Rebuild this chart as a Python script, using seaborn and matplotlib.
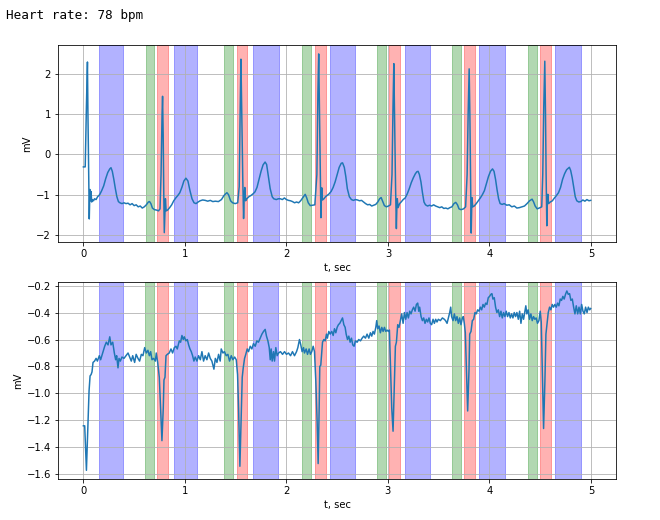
import matplotlib
matplotlib.use('Agg')
import matplotlib.pyplot as plt
import seaborn as sns

# canal 1 (t em s, valor em mV)
top_t = [0.000, 0.018, 0.030, 0.040, 0.045, 0.052, 0.058, 0.064, 0.070, 0.075, 0.082, 0.090, 0.100, 0.110, 0.125,
         0.140, 0.160, 0.180, 0.200, 0.220, 0.240, 0.260, 0.272, 0.285, 0.300, 0.315, 0.330, 0.345, 0.360, 0.380,
         0.400, 0.420, 0.440, 0.460, 0.480, 0.500, 0.520, 0.540, 0.560, 0.580, 0.600, 0.620, 0.640, 0.652, 0.665,
         0.680, 0.700, 0.720, 0.740, 0.755, 0.765, 0.775, 0.780, 0.786, 0.792, 0.797, 0.803, 0.808, 0.815, 0.830,
         0.850, 0.870, 0.890, 0.910, 0.930, 0.950, 0.970, 0.990, 1.010, 1.030, 1.050, 1.070, 1.090, 1.110, 1.130,
         1.150, 1.175, 1.200, 1.225, 1.250, 1.275, 1.300, 1.330, 1.360, 1.385, 1.400, 1.414, 1.430, 1.450, 1.470,
         1.495, 1.520, 1.535, 1.545, 1.552, 1.560, 1.570, 1.578, 1.585, 1.590, 1.598, 1.610, 1.630, 1.650, 1.670,
         1.690, 1.710, 1.730, 1.750, 1.770, 1.790, 1.805, 1.820, 1.840, 1.860, 1.875, 1.900, 1.920, 1.940, 1.960,
         1.980, 2.000, 2.020, 2.040, 2.060, 2.080, 2.100, 2.120, 2.140, 2.160, 2.185, 2.200, 2.215, 2.235, 2.260,
         2.280, 2.300, 2.310, 2.318, 2.326, 2.334, 2.340, 2.345, 2.349, 2.355, 2.370, 2.385, 2.400, 2.420, 2.440,
         2.460, 2.480, 2.500, 2.520, 2.540, 2.553, 2.570, 2.585, 2.600, 2.620, 2.640, 2.660, 2.680, 2.700, 2.720,
         2.740, 2.760, 2.780, 2.800, 2.820, 2.840, 2.860, 2.880, 2.900, 2.918, 2.933, 2.950, 2.965, 2.985, 3.005,
         3.025, 3.040, 3.050, 3.058, 3.066, 3.075, 3.083, 3.088, 3.092, 3.100, 3.115, 3.130, 3.150, 3.170, 3.190,
         3.210, 3.230, 3.250, 3.270, 3.285, 3.297, 3.310, 3.325, 3.340, 3.355, 3.370, 3.390, 3.410, 3.430, 3.450,
         3.470, 3.490, 3.510, 3.530, 3.550, 3.570, 3.590, 3.610, 3.630, 3.650, 3.668, 3.685, 3.700, 3.720, 3.745,
         3.765, 3.780, 3.790, 3.800, 3.807, 3.814, 3.820, 3.824, 3.827, 3.835, 3.850, 3.870, 3.890, 3.910, 3.930,
         3.950, 3.970, 3.990, 4.010, 4.030, 4.045, 4.060, 4.075, 4.090, 4.105, 4.125, 4.145, 4.170, 4.195, 4.220,
         4.245, 4.270, 4.295, 4.320, 4.345, 4.370, 4.395, 4.420, 4.435, 4.450, 4.470, 4.490, 4.515, 4.525, 4.535,
         4.545, 4.552, 4.558, 4.565, 4.570, 4.575, 4.582, 4.600, 4.620, 4.640, 4.660, 4.680, 4.700, 4.720, 4.740,
         4.760, 4.787, 4.800, 4.815, 4.830, 4.845, 4.860, 4.880, 4.900, 4.920, 4.940, 4.960, 4.980, 4.997]
top_mv = [-0.31, -0.31, 1.20, 2.29, 1.00, -0.50, -1.60, -0.87, -1.15, -0.92, -1.18, -1.12, -1.15, -1.10, -1.12,
          -1.05, -1.00, -0.90, -0.78, -0.60, -0.45, -0.36, -0.33, -0.42, -0.62, -0.85, -1.05, -1.17, -1.20, -1.22,
          -1.20, -1.22, -1.21, -1.25, -1.22, -1.27, -1.25, -1.30, -1.28, -1.33, -1.30, -1.25, -1.18, -1.17, -1.22,
          -1.33, -1.37, -1.38, -1.40, -1.35, -0.50, 1.00, 1.44, 0.50, -1.00, -1.94, -1.50, -1.10, -1.40, -1.38,
          -1.32, -1.25, -1.15, -1.08, -1.02, -0.95, -0.82, -0.66, -0.59, -0.66, -0.90, -1.10, -1.20, -1.22, -1.18,
          -1.15, -1.13, -1.14, -1.16, -1.14, -1.17, -1.16, -1.17, -1.12, -1.02, -0.98, -0.95, -1.00, -1.15, -1.20,
          -1.22, -1.20, -0.80, 1.20, 2.36, 1.00, -0.60, -1.59, -1.00, -0.82, -1.15, -1.10, -1.05, -1.02, -0.98,
          -0.93, -0.82, -0.62, -0.42, -0.26, -0.19, -0.25, -0.50, -0.85, -1.05, -1.10, -1.12, -1.10, -1.10, -1.12,
          -1.08, -1.12, -1.14, -1.15, -1.17, -1.20, -1.18, -1.20, -1.15, -1.08, -0.99, -1.08, -1.20, -1.27, -1.26,
          -1.25, -0.50, 1.50, 2.49, 1.00, -0.60, -1.57, -1.00, -0.83, -1.13, -1.10, -1.05, -1.02, -0.98, -0.92,
          -0.82, -0.68, -0.50, -0.32, -0.22, -0.21, -0.32, -0.55, -0.85, -1.05, -1.12, -1.14, -1.12, -1.13, -1.15,
          -1.14, -1.18, -1.22, -1.25, -1.24, -1.28, -1.26, -1.24, -1.18, -1.10, -1.07, -1.18, -1.27, -1.30, -1.28,
          -1.25, -0.50, 1.20, 2.25, 0.80, -0.80, -1.84, -1.30, -1.10, -1.32, -1.22, -1.18, -1.12, -1.08, -0.98,
          -0.85, -0.70, -0.58, -0.48, -0.43, -0.42, -0.50, -0.68, -0.95, -1.18, -1.25, -1.28, -1.26, -1.28, -1.25,
          -1.28, -1.30, -1.32, -1.30, -1.34, -1.33, -1.35, -1.32, -1.30, -1.22, -1.19, -1.25, -1.35, -1.37, -1.35,
          -1.30, -0.50, 1.00, 2.12, 1.00, -0.60, -1.95, -1.40, -1.07, -1.30, -1.28, -1.22, -1.15, -1.08, -1.00,
          -0.90, -0.72, -0.55, -0.42, -0.36, -0.42, -0.62, -0.88, -1.10, -1.22, -1.24, -1.22, -1.26, -1.25, -1.30,
          -1.28, -1.33, -1.32, -1.30, -1.28, -1.22, -1.15, -1.11, -1.18, -1.28, -1.35, -1.33, -1.30, -0.50, 1.20,
          2.31, 1.00, -0.50, -1.77, -1.20, -0.99, -1.22, -1.18, -1.15, -1.08, -1.02, -0.95, -0.82, -0.62, -0.48,
          -0.38, -0.32, -0.40, -0.58, -0.82, -1.05, -1.15, -1.18, -1.17, -1.13, -1.16, -1.12, -1.15, -1.14]

# canal 2
bot_t = [0.000, 0.013, 0.030, 0.046, 0.056, 0.066, 0.076, 0.085, 0.095, 0.110, 0.125, 0.138, 0.157, 0.170, 0.190,
         0.210, 0.226, 0.243, 0.260, 0.272, 0.289, 0.305, 0.318, 0.328, 0.341, 0.351, 0.364, 0.380, 0.400, 0.420,
         0.440, 0.456, 0.472, 0.486, 0.505, 0.520, 0.538, 0.554, 0.571, 0.587, 0.604, 0.620, 0.636, 0.650, 0.663,
         0.676, 0.692, 0.709, 0.718, 0.732, 0.748, 0.761, 0.774, 0.787, 0.794, 0.804, 0.814, 0.827, 0.846, 0.863,
         0.879, 0.896, 0.912, 0.925, 0.945, 0.958, 0.971, 0.984, 0.994, 1.010, 1.024, 1.037, 1.050, 1.063, 1.076,
         1.089, 1.102, 1.119, 1.135, 1.152, 1.168, 1.184, 1.200, 1.217, 1.234, 1.250, 1.266, 1.286, 1.300, 1.316,
         1.332, 1.348, 1.358, 1.375, 1.390, 1.407, 1.424, 1.440, 1.457, 1.473, 1.490, 1.506, 1.519, 1.529, 1.542,
         1.555, 1.565, 1.575, 1.588, 1.600, 1.614, 1.627, 1.644, 1.660, 1.676, 1.693, 1.709, 1.725, 1.742, 1.759,
         1.775, 1.791, 1.804, 1.818, 1.831, 1.841, 1.850, 1.860, 1.873, 1.883, 1.896, 1.909, 1.923, 1.942, 1.962,
         1.982, 2.001, 2.021, 2.041, 2.060, 2.080, 2.100, 2.113, 2.129, 2.142, 2.155, 2.169, 2.178, 2.195, 2.208,
         2.224, 2.237, 2.250, 2.264, 2.277, 2.290, 2.303, 2.313, 2.323, 2.329, 2.339, 2.356, 2.369, 2.382, 2.395,
         2.404, 2.418, 2.431, 2.447, 2.461, 2.474, 2.487, 2.500, 2.513, 2.526, 2.539, 2.553, 2.566, 2.579, 2.589,
         2.602, 2.615, 2.628, 2.641, 2.654, 2.667, 2.680, 2.697, 2.713, 2.730, 2.746, 2.762, 2.779, 2.795, 2.812,
         2.828, 2.841, 2.854, 2.867, 2.881, 2.890, 2.900, 2.913, 2.926, 2.940, 2.953, 2.966, 2.979, 2.992, 3.005,
         3.015, 3.025, 3.038, 3.051, 3.064, 3.074, 3.084, 3.097, 3.110, 3.123, 3.136, 3.150, 3.163, 3.176, 3.189,
         3.202, 3.215, 3.228, 3.241, 3.254, 3.268, 3.281, 3.294, 3.304, 3.313, 3.327, 3.340, 3.353, 3.366, 3.379,
         3.392, 3.405, 3.418, 3.431, 3.445, 3.458, 3.471, 3.484, 3.497, 3.517, 3.537, 3.556, 3.568, 3.583, 3.596,
         3.609, 3.619, 3.628, 3.642, 3.655, 3.668, 3.681, 3.694, 3.707, 3.720, 3.734, 3.743, 3.753, 3.763, 3.773,
         3.786, 3.799, 3.806, 3.819, 3.832, 3.845, 3.858, 3.871, 3.884, 3.898, 3.911, 3.924, 3.937, 3.950, 3.963,
         3.976, 3.989, 4.002, 4.015, 4.025, 4.035, 4.048, 4.061, 4.074, 4.088, 4.101, 4.114, 4.127, 4.140, 4.153,
         4.166, 4.179, 4.193, 4.206, 4.219, 4.232, 4.245, 4.258, 4.271, 4.285, 4.298, 4.311, 4.324, 4.337, 4.350,
         4.359, 4.369, 4.382, 4.395, 4.409, 4.422, 4.435, 4.448, 4.461, 4.474, 4.488, 4.501, 4.511, 4.521, 4.534,
         4.547, 4.557, 4.567, 4.580, 4.593, 4.606, 4.619, 4.632, 4.645, 4.659, 4.672, 4.685, 4.698, 4.711, 4.724,
         4.737, 4.750, 4.763, 4.777, 4.790, 4.803, 4.817, 4.830, 4.843, 4.856, 4.870, 4.883, 4.896, 4.909, 4.922,
         4.935, 4.948, 4.962, 4.975, 4.988, 4.998]
bot_mv = [-1.24, -1.24, -1.57, -1.21, -0.98, -0.87, -0.86, -0.84, -0.77, -0.76, -0.74, -0.76, -0.72, -0.75, -0.70,
          -0.65, -0.62, -0.64, -0.58, -0.64, -0.62, -0.70, -0.75, -0.72, -0.81, -0.74, -0.76, -0.73, -0.74, -0.72,
          -0.70, -0.73, -0.76, -0.72, -0.77, -0.71, -0.74, -0.76, -0.71, -0.72, -0.66, -0.70, -0.68, -0.72, -0.69,
          -0.75, -0.74, -0.76, -0.70, -0.77, -0.88, -1.11, -1.35, -1.11, -0.90, -0.88, -0.72, -0.71, -0.70, -0.67,
          -0.70, -0.66, -0.65, -0.67, -0.61, -0.62, -0.57, -0.60, -0.58, -0.61, -0.60, -0.64, -0.67, -0.69, -0.72,
          -0.76, -0.73, -0.76, -0.72, -0.75, -0.69, -0.76, -0.72, -0.75, -0.70, -0.74, -0.76, -0.82, -0.74, -0.77,
          -0.71, -0.76, -0.67, -0.70, -0.69, -0.72, -0.71, -0.76, -0.72, -0.75, -0.73, -0.75, -0.86, -1.11, -1.54,
          -1.16, -0.88, -0.81, -0.74, -0.71, -0.67, -0.69, -0.65, -0.67, -0.63, -0.65, -0.61, -0.62, -0.59, -0.56,
          -0.54, -0.525, -0.575, -0.61, -0.66, -0.75, -0.67, -0.76, -0.69, -0.76, -0.66, -0.72, -0.70, -0.69, -0.71,
          -0.69, -0.71, -0.70, -0.72, -0.69, -0.72, -0.69, -0.66, -0.60, -0.64, -0.69, -0.66, -0.70, -0.67, -0.71,
          -0.67, -0.71, -0.69, -0.65, -0.69, -0.91, -1.21, -1.52, -1.11, -0.80, -0.79, -0.62, -0.60, -0.61, -0.56,
          -0.59, -0.54, -0.56, -0.54, -0.57, -0.52, -0.55, -0.51, -0.49, -0.48, -0.46, -0.44, -0.49, -0.51, -0.56,
          -0.60, -0.575, -0.62, -0.59, -0.64, -0.65, -0.61, -0.62, -0.60, -0.61, -0.59, -0.575, -0.59, -0.56, -0.59,
          -0.55, -0.575, -0.54, -0.56, -0.51, -0.46, -0.52, -0.50, -0.55, -0.51, -0.54, -0.51, -0.54, -0.53, -0.54,
          -0.53, -0.79, -1.11, -1.28, -0.91, -0.65, -0.62, -0.49, -0.51, -0.46, -0.41, -0.48, -0.40, -0.45, -0.40,
          -0.44, -0.39, -0.41, -0.38, -0.36, -0.39, -0.34, -0.33, -0.39, -0.36, -0.43, -0.46, -0.44, -0.48, -0.45,
          -0.47, -0.44, -0.48, -0.49, -0.45, -0.48, -0.45, -0.47, -0.45, -0.46, -0.44, -0.45, -0.46, -0.48, -0.44,
          -0.40, -0.36, -0.43, -0.46, -0.41, -0.46, -0.43, -0.48, -0.44, -0.49, -0.44, -0.43, -0.48, -0.55, -0.81,
          -1.13, -0.83, -0.56, -0.54, -0.46, -0.45, -0.40, -0.41, -0.38, -0.39, -0.36, -0.38, -0.34, -0.36, -0.33,
          -0.34, -0.29, -0.28, -0.265, -0.26, -0.30, -0.29, -0.36, -0.40, -0.38, -0.43, -0.39, -0.44, -0.40, -0.43,
          -0.39, -0.43, -0.40, -0.44, -0.41, -0.44, -0.40, -0.43, -0.40, -0.45, -0.39, -0.48, -0.41, -0.45, -0.39,
          -0.35, -0.41, -0.38, -0.45, -0.41, -0.46, -0.43, -0.45, -0.44, -0.48, -0.46, -0.39, -0.47, -0.83, -1.26,
          -0.91, -0.56, -0.49, -0.40, -0.36, -0.38, -0.34, -0.36, -0.34, -0.36, -0.33, -0.35, -0.30, -0.31, -0.28,
          -0.30, -0.265, -0.24, -0.265, -0.26, -0.31, -0.30, -0.36, -0.41, -0.35, -0.41, -0.36, -0.41, -0.34, -0.39,
          -0.41, -0.36, -0.40, -0.36, -0.38, -0.37]

# intervalos detectados (s): onda P, complexo QRS, onda T
p_ini = [0.612, 1.382, 2.152, 2.897, 3.635, 4.383]
p_fim = [0.698, 1.478, 2.238, 2.979, 3.717, 4.465]
qrs_ini = [0.730, 1.510, 2.280, 3.009, 3.750, 4.498]
qrs_fim = [0.836, 1.616, 2.386, 3.117, 3.855, 4.603]
t_ini = [0.151, 0.892, 1.672, 2.434, 3.172, 3.900, 4.649]
t_fim = [0.392, 1.122, 1.922, 2.674, 3.412, 4.150, 4.899]

heart_rate = 78

fig = plt.figure(figsize=(660 / 72, 520 / 72), dpi=72)
ax1 = fig.add_axes([0.0879, 0.5346, 0.8455, 0.3789])
ax2 = fig.add_axes([0.0879, 0.0783, 0.8455, 0.3794])

for ax, t, mv in [(ax1, top_t, top_mv), (ax2, bot_t, bot_mv)]:
    for a, b in zip(p_ini, p_fim):
        ax.axvspan(a, b, color='green', alpha=0.3)
    for a, b in zip(qrs_ini, qrs_fim):
        ax.axvspan(a, b, color='red', alpha=0.3)
    for a, b in zip(t_ini, t_fim):
        ax.axvspan(a, b, color='blue', alpha=0.3)
    sns.lineplot(x=t, y=mv, ax=ax, color='#1f77b4', linewidth=1.5, estimator=None)
    ax.grid(True)
    ax.set_xlabel('t, sec')
    ax.set_ylabel('mV')

fig.text(6 / 660, 1 - 19 / 520, 'Heart rate: %d bpm' % heart_rate,
         family='DejaVu Sans Mono', fontsize=12.6, va='baseline', ha='left')

fig.savefig('out.png', dpi=72)
